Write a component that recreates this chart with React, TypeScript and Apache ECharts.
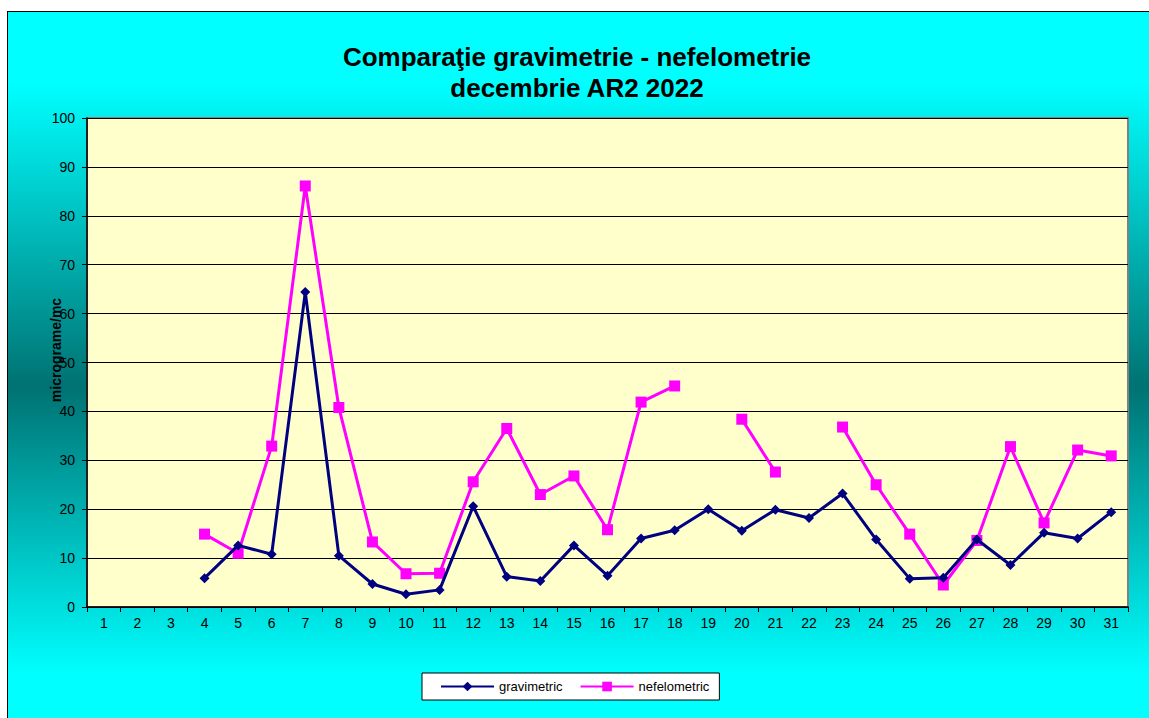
import React, { useEffect, useRef } from "react";
import * as echarts from "echarts";

const days: string[] = Array.from({ length: 31 }, (_, i) => String(i + 1));
const gravimetric: (number | null)[] = [
  null, null, null, 5.9, 12.6, 10.8, 64.4, 10.5, 4.7, 2.6, 3.5, 20.6, 6.2, 5.3, 12.6, 6.4,
  14.0, 15.7, 20.0, 15.6, 19.9, 18.2, 23.2, 13.8, 5.8, 6.0, 13.8, 8.6, 15.2, 14.0, 19.4,
];
const nefelometric: (number | null)[] = [
  null, null, null, 14.9, 11.0, 32.9, 86.1, 40.8, 13.3, 6.8, 6.9, 25.6, 36.5, 23.0, 26.8, 15.8,
  41.9, 45.2, null, 38.4, 27.6, null, 36.8, 25.0, 14.9, 4.5, 13.6, 32.8, 17.2, 32.1, 30.9,
];
const yTicks = { min: 0, max: 100, interval: 10 };
const titleLines = ["Comparaţie gravimetrie - nefelometrie", "decembrie AR2 2022"];
const yName = "micrograme/mc";
const seriesNames = ["gravimetric", "nefelometric"];

const FONT = '"Liberation Sans", Arial, sans-serif';

export default function App() {
  const ref = useRef<HTMLDivElement>(null);
  useEffect(() => {
    if (!ref.current) return;
    const chart = echarts.init(ref.current, null, { renderer: "svg" });
    chart.setOption({
      animation: false,
      textStyle: { fontFamily: FONT },
      graphic: [
        {
          type: "text",
          x: 577,
          y: 57,
          style: {
            text: titleLines[0],
            font: `bold 26px ${FONT}`,
            fill: "#000",
            textAlign: "center",
            textVerticalAlign: "middle",
          },
        },
        {
          type: "text",
          x: 577,
          y: 88,
          style: {
            text: titleLines[1],
            font: `bold 26px ${FONT}`,
            fill: "#000",
            textAlign: "center",
            textVerticalAlign: "middle",
          },
        },
        {
          type: "text",
          x: 56,
          y: 350,
          rotation: Math.PI / 2,
          style: {
            text: yName,
            font: `bold 14px ${FONT}`,
            fill: "#000",
            textAlign: "center",
            textVerticalAlign: "middle",
          },
          z: 100,
        },
      ],
      legend: {
        left: 422,
        top: 673,
        orient: "horizontal",
        backgroundColor: "#fff",
        borderColor: "#000",
        borderWidth: 1,
        borderRadius: 0,
        padding: [7, 10, 7, 18],
        itemWidth: 53,
        itemHeight: 12,
        itemGap: 17,
        textStyle: { fontSize: 13, color: "#000", fontFamily: FONT },
        data: seriesNames,
      },
      grid: {
        left: 87,
        top: 118,
        right: 21,
        bottom: 111,
        show: true,
        backgroundColor: "#FFFFCC",
        borderColor: "#808080",
        borderWidth: 2,
      },
      xAxis: {
        type: "category",
        data: days,
        boundaryGap: true,
        axisLine: { show: true, lineStyle: { color: "#000", width: 1.5 } },
        axisTick: { show: true, length: 5, lineStyle: { color: "#000" } },
        axisLabel: { color: "#000", fontSize: 14, margin: 9, interval: 0, fontFamily: FONT },
        splitLine: { show: false },
      },
      yAxis: {
        type: "value",
        min: yTicks.min,
        max: yTicks.max,
        interval: yTicks.interval,
        axisLine: { show: true, lineStyle: { color: "#000", width: 1.5 } },
        axisTick: { show: true, length: 5, lineStyle: { color: "#000" } },
        axisLabel: { color: "#000", fontSize: 14, margin: 12, fontFamily: FONT },
        splitLine: { show: true, lineStyle: { color: "#000", width: 1 } },
      },
      series: [
        {
          name: seriesNames[0],
          type: "line",
          data: gravimetric,
          connectNulls: false,
          showAllSymbol: true,
          symbol: "diamond",
          symbolSize: 10,
          itemStyle: { color: "#000080" },
          lineStyle: { color: "#000080", width: 3 },
          z: 3,
        },
        {
          name: seriesNames[1],
          type: "line",
          data: nefelometric,
          connectNulls: false,
          showAllSymbol: true,
          symbol: "rect",
          symbolSize: 11,
          itemStyle: { color: "#FF00FF" },
          lineStyle: { color: "#FF00FF", width: 3 },
          z: 2,
        },
      ],
    });
    return () => chart.dispose();
  }, []);

  return (
    <div
      style={{
        position: "fixed",
        left: 0,
        top: 0,
        width: 1149,
        height: 718,
        background: "#fff",
        overflow: "hidden",
      }}
    >
      <div
        style={{
          position: "absolute",
          left: 7,
          top: 11,
          width: 1160,
          height: 720,
          borderLeft: "1px solid #000",
          borderTop: "1px solid #000",
          background:
            "linear-gradient(to bottom, #00FFFF 0%, #00FFFF 10%, #007272 52%, #00FFFF 92%, #00FFFF 100%)",
        }}
      />
      <div
        ref={ref}
        style={{ position: "absolute", left: 0, top: 0, width: 1149, height: 718 }}
      />
    </div>
  );
}
